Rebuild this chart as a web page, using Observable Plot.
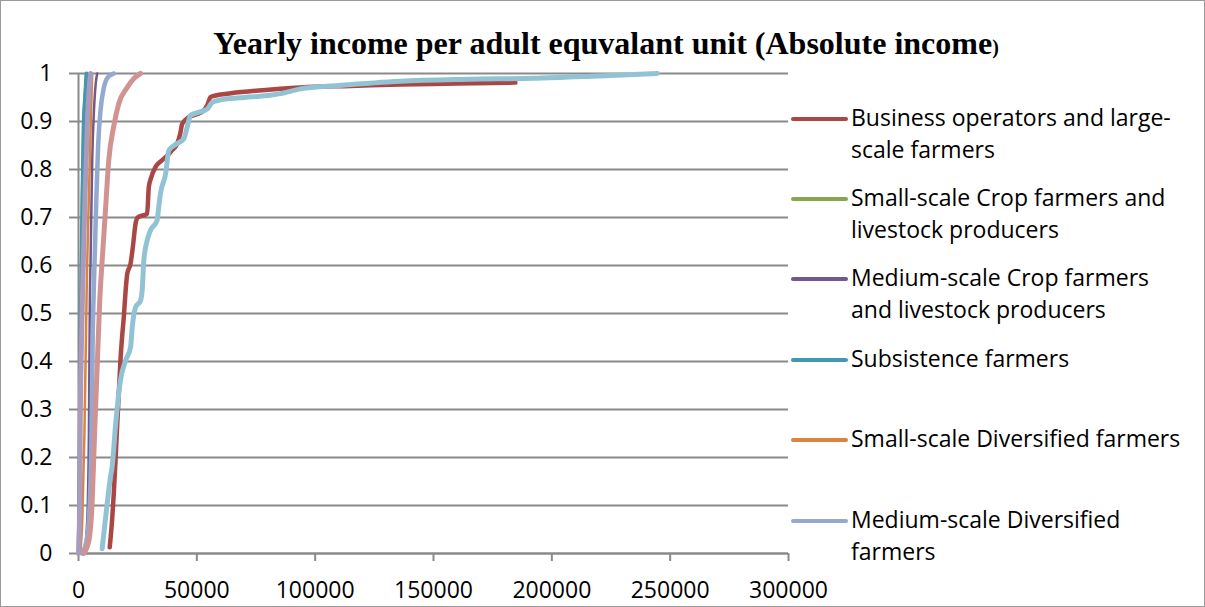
<!DOCTYPE html>
<html><head><meta charset="utf-8">
<script src="https://cdn.jsdelivr.net/npm/d3@7"></script>
<script src="https://cdn.jsdelivr.net/npm/@observablehq/plot@0.6"></script>
<style>
html,body{margin:0;padding:0;background:#fff;}
#wrap{position:relative;width:1205px;height:607px;overflow:hidden;background:#fff;}
#chart{position:absolute;left:0;top:0;}
#overlay{position:absolute;left:0;top:0;pointer-events:none;}
#frame{position:absolute;left:0;top:0;width:1205px;height:607px;box-sizing:border-box;border:1px solid #9a9a9a;pointer-events:none;}
</style></head><body>
<div id="wrap"><div id="chart"></div><svg id="overlay" width="1205" height="607"></svg><div id="frame"></div></div>
<script>
// ---- data ----
const titleText = "Yearly income per adult equvalant unit (Absolute income";
const xTicks = [0, 50000, 100000, 150000, 200000, 250000, 300000];
const yTicks = [0, 0.1, 0.2, 0.3, 0.4, 0.5, 0.6, 0.7, 0.8, 0.9, 1];

const seriesNames = [
  "Business operators and large-scale farmers",
  "Small-scale Crop farmers and livestock producers",
  "Medium-scale Crop farmers and livestock producers",
  "Subsistence farmers",
  "Small-scale Diversified farmers",
  "Medium-scale Diversified farmers",
  "Series 7",
  "Series 8",
  "Series 9"
];
const legendLines = [
  ["Business operators and large-", "scale farmers"],
  ["Small-scale Crop farmers and", "livestock producers"],
  ["Medium-scale Crop farmers", "and livestock producers"],
  ["Subsistence farmers"],
  ["Small-scale Diversified farmers"],
  ["Medium-scale Diversified", "farmers"]
];
const seriesColors = ["#AA4643", "#89A54E", "#71588F", "#4198AF", "#DB843D", "#93A9CF", "#D19392", "#A99BBD", "#92C3D4"];

const businessX = [13200, 14200, 14900, 15600, 16300, 17000, 17700, 18400, 19100, 19800, 20600, 22000, 23000, 24100, 25000, 29000, 29700, 30500, 32500, 35000, 37500, 39500, 41700, 43000, 43800, 46600, 50000, 52900, 54500, 55800, 62800, 75000, 93800, 115000, 136000, 160000, 184600];
const businessY = [0.013, 0.07, 0.124, 0.19, 0.263, 0.33, 0.40, 0.45, 0.49, 0.54, 0.583, 0.604, 0.64, 0.687, 0.70, 0.708, 0.763, 0.78, 0.805, 0.818, 0.829, 0.84, 0.854, 0.875, 0.895, 0.909, 0.915, 0.923, 0.935, 0.951, 0.958, 0.964, 0.971, 0.974, 0.977, 0.979, 0.981];

const smallCropX = [0, 150, 400, 800, 1200, 1600, 2100, 2700, 3300];
const smallCropY = [0, 0.05, 0.2, 0.4, 0.6, 0.75, 0.89, 0.95, 1.0];

const mediumCropX = [2500, 3700, 4400, 4800, 5100, 5800, 6500, 7300, 7900];
const mediumCropY = [0, 0.07, 0.25, 0.53, 0.61, 0.82, 0.92, 0.98, 1.0];

const subsistenceX = [0, 200, 500, 900, 1300, 1700, 2200, 2800, 3400];
const subsistenceY = [0, 0.05, 0.2, 0.4, 0.6, 0.75, 0.89, 0.95, 1.0];

const smallDivX = [800, 1600, 2500, 3400, 3700, 4800, 5300, 5800];
const smallDivY = [0, 0.07, 0.25, 0.53, 0.61, 0.82, 0.92, 1.0];

const mediumDivX = [1500, 3500, 4800, 5500, 6000, 6800, 7600, 8300, 9300, 10700, 12500, 14900];
const mediumDivY = [0, 0.03, 0.11, 0.25, 0.45, 0.61, 0.75, 0.85, 0.923, 0.97, 0.993, 1.0];

const series7X = [2200, 4400, 5800, 6800, 7900, 9000, 10000, 11400, 12800, 14900, 17000, 20600, 23500, 26200];
const series7Y = [0, 0.027, 0.11, 0.25, 0.39, 0.53, 0.61, 0.715, 0.82, 0.89, 0.937, 0.971, 0.99, 1.0];

const series8X = [0, 500, 700, 1300, 2000, 2800, 3700, 4400, 5100];
const series8Y = [0, 0.1, 0.25, 0.45, 0.6, 0.75, 0.89, 0.96, 1.0];

const series9X = [10000, 10700, 12100, 13500, 14200, 15600, 17000, 17700, 19900, 22000, 22700, 24100, 26200, 26900, 27600, 29000, 30400, 33200, 33900, 34600, 36800, 38200, 41000, 44500, 46000, 47300, 50000, 54400, 56500, 60000, 70000, 80000, 85300, 93800, 110000, 136000, 165000, 192300, 220000, 244600];
const series9Y = [0.01, 0.041, 0.103, 0.159, 0.18, 0.263, 0.333, 0.36, 0.402, 0.43, 0.471, 0.513, 0.527, 0.548, 0.61, 0.652, 0.673, 0.694, 0.721, 0.749, 0.791, 0.84, 0.852, 0.864, 0.89, 0.9125, 0.918, 0.926, 0.94, 0.945, 0.95, 0.954, 0.958, 0.968, 0.975, 0.984, 0.988, 0.99, 0.995, 1.0];

const seriesX = [businessX, smallCropX, mediumCropX, subsistenceX, smallDivX, mediumDivX, series7X, series8X, series9X];
const seriesY = [businessY, smallCropY, mediumCropY, subsistenceY, smallDivY, mediumDivY, series7Y, series8Y, series9Y];
const seriesWidths = [4.5, 3, 2.5, 4, 2.5, 4.5, 5, 5, 5];

// ---- build ----
const gridColor = "#8a8a8a";
const lineMarks = seriesNames.map((name, i) => {
  const rows = seriesX[i].map((x, j) => ({series: name, x, y: seriesY[i][j]}));
  return Plot.line(rows, {x: "x", y: "y", stroke: seriesColors[i], strokeWidth: seriesWidths[i], strokeLinecap: "round", strokeLinejoin: "round", curve: "monotone-x"});
});

const chart = Plot.plot({
  width: 1205,
  height: 607,
  marginLeft: 78,
  marginRight: 417,
  marginTop: 73,
  marginBottom: 54,
  style: {fontFamily: "'Open Sans', sans-serif", fontSize: "23px", color: "#000", background: "transparent", overflow: "visible"},
  x: {domain: [0, 300000]},
  y: {domain: [0, 1]},
  marks: [
    Plot.gridY(yTicks, {stroke: gridColor, strokeOpacity: 1, strokeWidth: 2}),
    Plot.axisY(yTicks, {tickSize: 9, tickPadding: 17, stroke: gridColor, strokeWidth: 2, tickFormat: d => String(+d.toFixed(1)), label: null, fill: "#000"}),
    Plot.axisX(xTicks, {tickSize: 8, tickPadding: 20, stroke: gridColor, strokeWidth: 2, tickFormat: d => String(d), label: null, fill: "#000"}),
    Plot.ruleX([0], {stroke: gridColor, strokeWidth: 2}),
    Plot.ruleY([0], {stroke: gridColor, strokeWidth: 2}),
    ...lineMarks
  ]
});
document.getElementById("chart").appendChild(chart);

// ---- title & legend overlay ----
const ov = d3.select("#overlay");
const t = ov.append("text").attr("x", 606).attr("y", 54).attr("text-anchor", "middle")
  .style("font-family", "'Liberation Serif', 'Times New Roman', serif").style("font-weight", "bold").style("font-size", "32px").attr("fill", "#000");
t.append("tspan").text(titleText);
t.append("tspan").style("font-size", "20px").text(")");

const legendY = [119, 199, 279, 360, 440, 521];
legendLines.forEach((lines, i) => {
  const y = legendY[i];
  ov.append("line").attr("x1", 793).attr("x2", 846).attr("y1", y).attr("y2", y)
    .attr("stroke", seriesColors[i]).attr("stroke-width", 4).attr("stroke-linecap", "round");
  lines.forEach((s, k) => {
    ov.append("text").attr("x", 851).attr("y", y + 7 + k * 32)
      .style("font-family", "'Open Sans', sans-serif").style("font-size", "23px").attr("fill", "#000").text(s);
  });
});
</script>
</body></html>
